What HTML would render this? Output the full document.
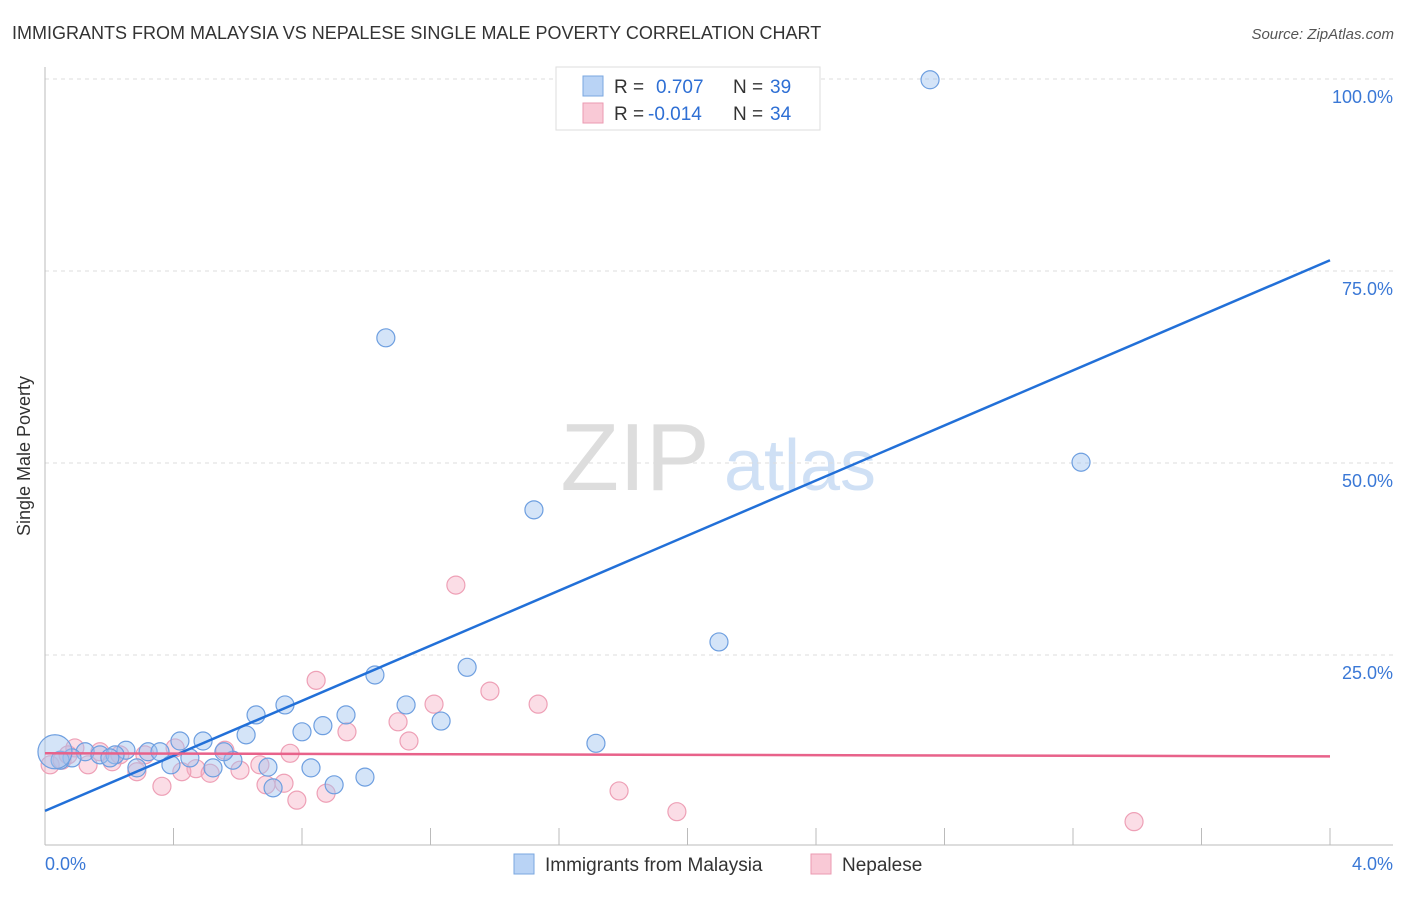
<!DOCTYPE html>
<html><head><meta charset="utf-8"><style>
body{margin:0;background:#fff;font-family:"Liberation Sans",sans-serif;}
svg text{font-family:"Liberation Sans",sans-serif;}
</style></head><body>
<svg id="chart" width="1406" height="892">
<text x="12" y="39" font-size="18" fill="#333">IMMIGRANTS FROM MALAYSIA VS NEPALESE SINGLE MALE POVERTY CORRELATION CHART</text>
<text x="1394" y="39" font-size="15" fill="#555" font-style="italic" text-anchor="end">Source: ZipAtlas.com</text>
<text x="30" y="456" font-size="18" fill="#333" text-anchor="middle" transform="rotate(-90 30 456)">Single Male Poverty</text>
<g>
<text x="635" y="490" font-size="96" fill="#ddd" font-family="Liberation Serif,serif" text-anchor="middle">ZIP</text>
<text x="800" y="490" font-size="72" fill="#cfe0f5" text-anchor="middle">atlas</text>
</g>
<g id="grid"></g>
<g id="axes"></g>
<g id="pts"></g>
<g id="trend"></g>
<g>
<rect x="556" y="67" width="264" height="63" fill="#fff" stroke="#ddd"/>
<rect x="583" y="76" width="20" height="20" fill="#b9d3f5" stroke="#7aa7e0"/>
<text x="614" y="93" font-size="19" fill="#333">R = </text><text x="656" y="93" font-size="19" fill="#2e6fd4">0.707</text>
<text x="733" y="93" font-size="19" fill="#333">N = </text><text x="770" y="93" font-size="19" fill="#2e6fd4">39</text>
<rect x="583" y="103" width="20" height="20" fill="#f9c9d6" stroke="#eb9ab1"/>
<text x="614" y="120" font-size="19" fill="#333">R = </text><text x="648" y="120" font-size="19" fill="#2e6fd4">-0.014</text>
<text x="733" y="120" font-size="19" fill="#333">N = </text><text x="770" y="120" font-size="19" fill="#2e6fd4">34</text>
</g>
<g>
<rect x="514" y="854" width="20" height="20" fill="#b9d3f5" stroke="#7aa7e0"/>
<text x="545" y="871" font-size="19" fill="#333">Immigrants from Malaysia</text>
<rect x="811" y="854" width="20" height="20" fill="#f9c9d6" stroke="#eb9ab1"/>
<text x="842" y="871" font-size="19" fill="#333">Nepalese</text>
</g>
</svg>
<script>
const blueX=[2.755,1.061,3.225,1.522,2.098,1.314,1.027,1.124,0.747,0.657,0.937,0.865,1.233,0.800,0.420,0.492,0.626,1.715,0.252,0.321,0.358,0.125,0.171,0.218,0.084,0.451,0.585,0.392,0.523,0.694,0.286,0.828,0.557,0.900,0.996,0.710,0.047,0.202,0.031];
const blueY=[99.9,66.3,50.1,43.9,26.7,23.4,22.4,18.5,18.5,17.2,17.2,15.8,16.4,15.0,13.8,13.8,14.6,13.5,12.6,12.4,12.4,12.4,12.0,12.0,11.6,11.6,11.3,10.7,10.3,10.4,10.3,10.3,12.4,8.1,9.1,7.7,11.3,11.6,12.4];
const pinkX=[1.279,0.844,1.385,1.535,1.211,1.099,0.940,1.133,0.763,0.560,0.405,0.171,0.093,0.233,0.016,0.053,0.134,0.209,0.311,0.470,0.286,0.426,0.514,0.607,0.669,0.688,0.744,0.364,0.784,0.875,1.787,1.967,3.390,0.072];
const pinkY=[34.1,21.7,20.3,18.6,18.6,16.3,15.0,13.8,12.2,12.6,12.9,12.4,12.9,12.0,10.7,11.3,10.7,11.1,12.0,10.2,9.8,9.8,9.6,10.0,10.7,8.1,8.3,7.9,6.1,7.0,7.3,4.6,3.3,12.0];
const blueTrend=[4.7,76.4];
const pinkTrend=[12.2,11.8];
const yTicks=[25,50,75,100];
const xTickLabels=["0.0%","4.0%"];
const NS="http://www.w3.org/2000/svg";
const xs=v=>45+v/4*1285, ys=v=>847-v*7.68;
function mk(tag,attrs,parent){const e=document.createElementNS(NS,tag);for(const k in attrs)e.setAttribute(k,attrs[k]);document.getElementById(parent).appendChild(e);return e;}
yTicks.forEach(t=>{
 const l=mk('line',{x1:45,x2:1393,y1:ys(t),y2:ys(t),stroke:'#ddd','stroke-dasharray':'4,4'},'grid');
 
 
 const tx=mk('text',{x:1393,y:ys(t)+24,'font-size':18,fill:'#3a78d6','text-anchor':'end'},'grid');
 tx.textContent=t.toFixed(1)+'%';
 
 
});
mk('line',{x1:45,x2:45,y1:67,y2:845,stroke:'#bbb'},'axes');
mk('line',{x1:45,x2:1393,y1:845,y2:845,stroke:'#bbb'},'axes');
for(let i=1;i<=10;i++){const x=xs(i*0.4);mk('line',{x1:x,x2:x,y1:828,y2:845,stroke:'#bbb'},'axes');}
const xl0=mk('text',{x:45,y:870,'font-size':18,fill:'#3a78d6'},'axes');xl0.textContent=xTickLabels[0];


const xl1=mk('text',{x:1393,y:870,'font-size':18,fill:'#3a78d6','text-anchor':'end'},'axes');xl1.textContent=xTickLabels[1];


pinkX.forEach((v,i)=>{const c=mk('circle',{cx:xs(v),cy:ys(pinkY[i]),r:9,fill:'rgba(246,170,192,0.4)',stroke:'#eea0b6','stroke-width':1.2},'pts');
 
 });
blueX.forEach((v,i)=>{const c=mk('circle',{cx:xs(v),cy:ys(blueY[i]),r:i===blueX.length-1?17:9,fill:'rgba(160,195,240,0.45)',stroke:'#6e9fe0','stroke-width':1.2},'pts');
 
 });
const bt=mk('line',{x1:xs(0),y1:ys(blueTrend[0]),x2:xs(4),y2:ys(blueTrend[1]),stroke:'#2270d8','stroke-width':2.5},'trend');


const pt=mk('line',{x1:xs(0),y1:ys(pinkTrend[0]),x2:xs(4),y2:ys(pinkTrend[1]),stroke:'#e8628a','stroke-width':2.5},'trend');


</script>
</body></html>
